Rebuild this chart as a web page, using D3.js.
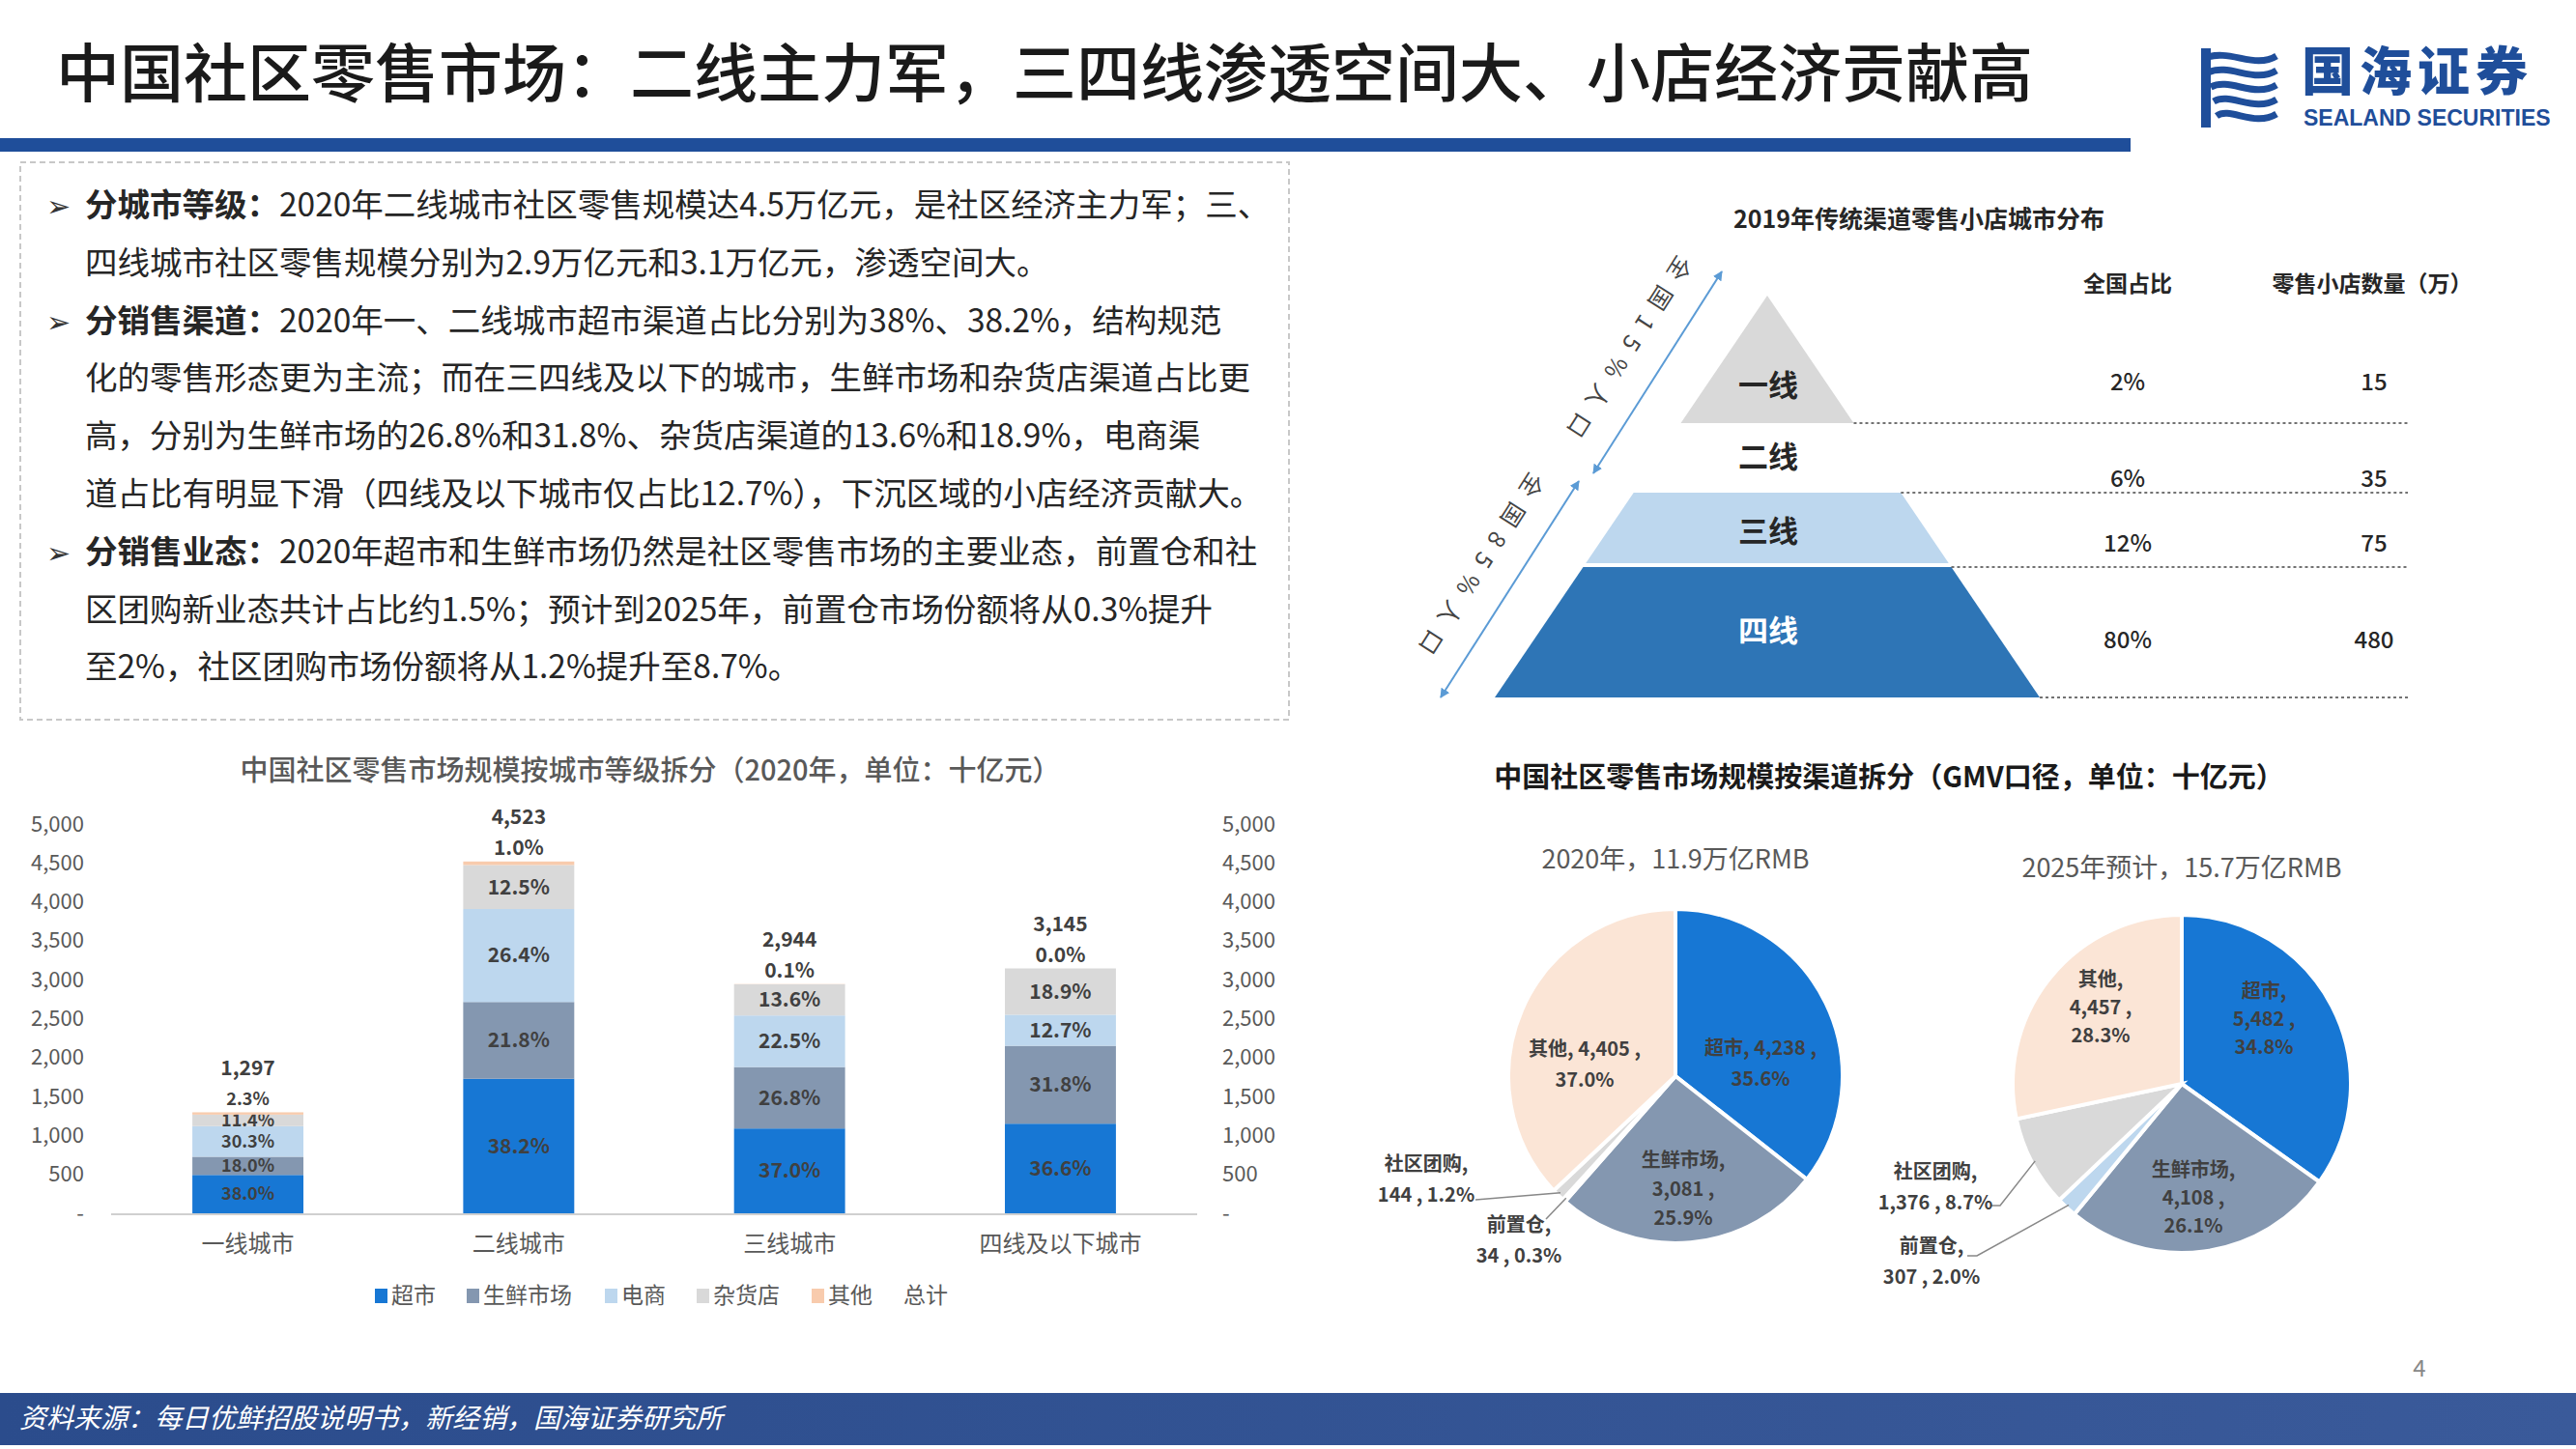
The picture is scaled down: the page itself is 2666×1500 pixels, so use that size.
<!DOCTYPE html>
<html><head><meta charset="utf-8">
<script src="https://cdn.jsdelivr.net/npm/d3@7"></script>
<style>body{margin:0;background:#fff}svg{display:block;font-family:"Noto Sans CJK SC","Noto Sans",sans-serif}</style>
</head><body><svg id="c" width="2666" height="1500"></svg>
<script>
// ---- data ----
const cityCats = ["一线城市","二线城市","三线城市","四线及以下城市"];
const cityTotals = [1297,4523,2944,3145];
const seriesNames = ["超市","生鲜市场","电商","杂货店","其他"];
const pctSupermarket = [38.0,38.2,37.0,36.6];
const pctFresh = [18.0,21.8,26.8,31.8];
const pctEcom = [30.3,26.4,22.5,12.7];
const pctGrocery = [11.4,12.5,13.6,18.9];
const pctOther = [2.3,1.0,0.1,0.0];
const yTicks = [0,500,1000,1500,2000,2500,3000,3500,4000,4500,5000];

const pyrTiers = ["一线","二线","三线","四线"];
const pyrShare = ["2%","6%","12%","80%"];
const pyrStores = ["15","35","75","480"];

const pieChannels = ["超市","生鲜市场","前置仓","社区团购","其他"];
const pie2020 = [4238,3081,34,144,4405];
const pie2020Pct = ["35.6%","25.9%","0.3%","1.2%","37.0%"];
const pie2025 = [5482,4108,307,1376,4457];
const pie2025Pct = ["34.8%","26.1%","2.0%","8.7%","28.3%"];

const svg = d3.select("#c");
const F = "Noto Sans CJK SC";

// ---- header ----
svg.append("text").attr("x",58).attr("y",100).attr("font-size",66).attr("fill","#1a1a1a").attr("font-weight",500)
  .text("中国社区零售市场：二线主力军，三四线渗透空间大、小店经济贡献高");
svg.append("rect").attr("x",0).attr("y",143).attr("width",2205).attr("height",14).attr("fill","#1F4E9A");
// logo
const lg = svg.append("g").attr("transform","translate(2278,50)");
for(let i=0;i<5;i++){
  lg.append("path").attr("d",`M${4+i*3},${10+i*15} C${30},${0+i*15} ${55},${22+i*15} ${78},${8+i*15}`)
    .attr("stroke","#1F4E9A").attr("stroke-width",7).attr("fill","none");
}
lg.append("rect").attr("x",0).attr("y",0).attr("width",10).attr("height",82).attr("fill","#1F4E9A");
svg.append("text").attr("x",2382).attr("y",94).attr("font-size",54).attr("font-weight",900).attr("fill","#1F4E9A").attr("letter-spacing",6).text("国海证券");
svg.append("text").attr("x",2384).attr("y",130).attr("font-size",23).attr("font-weight",700).attr("fill","#1F4E9A").attr("font-family","Liberation Sans").text("SEALAND SECURITIES");

// ---- text box ----
svg.append("rect").attr("x",21).attr("y",168).attr("width",1313).attr("height",577).attr("fill","none")
  .attr("stroke","#c8c8c8").attr("stroke-width",2).attr("stroke-dasharray","6,4");
const lines = [
  [true,"分城市等级：","2020年二线城市社区零售规模达4.5万亿元，是社区经济主力军；三、"],
  [false,"","四线城市社区零售规模分别为2.9万亿元和3.1万亿元，渗透空间大。"],
  [true,"分销售渠道：","2020年一、二线城市超市渠道占比分别为38%、38.2%，结构规范"],
  [false,"","化的零售形态更为主流；而在三四线及以下的城市，生鲜市场和杂货店渠道占比更"],
  [false,"","高，分别为生鲜市场的26.8%和31.8%、杂货店渠道的13.6%和18.9%，电商渠"],
  [false,"","道占比有明显下滑（四线及以下城市仅占比12.7%），下沉区域的小店经济贡献大。"],
  [true,"分销售业态：","2020年超市和生鲜市场仍然是社区零售市场的主要业态，前置仓和社"],
  [false,"","区团购新业态共计占比约1.5%；预计到2025年，前置仓市场份额将从0.3%提升"],
  [false,"","至2%，社区团购市场份额将从1.2%提升至8.7%。"]];
lines.forEach((l,i)=>{
  const y = 224+i*59.8;
  if(l[0]) svg.append("text").attr("x",48).attr("y",y).attr("font-size",30).attr("fill","#333").text("➢");
  const t = svg.append("text").attr("x",88).attr("y",y).attr("font-size",33.5).attr("fill","#262626");
  if(l[1]) t.append("tspan").attr("font-weight",700).text(l[1]);
  t.append("tspan").text(l[2]);
});

// ---- stacked bar chart ----
svg.append("text").attr("x",673).attr("y",808).attr("text-anchor","middle").attr("font-size",29).attr("fill","#595959").attr("font-weight",500)
  .text("中国社区零售市场规模按城市等级拆分（2020年，单位：十亿元）");
const bx = d3.scaleBand().domain(cityCats).range([115,1239]).paddingInner(0.59).paddingOuter(0.3);
const by = d3.scaleLinear().domain([0,5000]).range([1256,853]);
const colors = ["#1777D4","#8497B0","#BDD7EE","#D9D9D9","#F8CBAD"];
const pctArr = [pctSupermarket,pctFresh,pctEcom,pctGrocery,pctOther];
const fmt = d3.format(",");
const tk = v=> v===0?"-":fmt(v);
const axL = svg.append("g").attr("transform","translate(90,0)").call(d3.axisLeft(by).tickValues(yTicks).tickFormat(tk).tickSize(0));
const axR = svg.append("g").attr("transform","translate(1262,0)").call(d3.axisRight(by).tickValues(yTicks).tickFormat(tk).tickSize(0));
[axL,axR].forEach(a=>{a.select(".domain").remove();a.selectAll("text").attr("font-size",22).attr("fill","#595959").attr("font-family",F);});
svg.append("line").attr("x1",115).attr("x2",1239).attr("y1",1257).attr("y2",1257).attr("stroke","#d0d0d0").attr("stroke-width",2);
cityCats.forEach((c,i)=>{
  let cum=0;
  pctArr.forEach((arr,s)=>{
    const v = cityTotals[i]*arr[i]/100;
    const y0=by(cum), y1=by(cum+v);
    svg.append("rect").attr("x",bx(c)).attr("width",bx.bandwidth()).attr("y",y1).attr("height",Math.max(0,y0-y1)).attr("fill",colors[s]);
    const lbl = arr[i].toFixed(1)+"%";
    const ly = s===4 ? by(cityTotals[i])-14 : (y0+y1)/2;
    svg.append("text").attr("x",bx(c)+bx.bandwidth()/2).attr("y",ly).attr("dy","0.35em").attr("text-anchor","middle")
      .attr("font-size",i===0?18:21).attr("font-weight",700).attr("fill","#404040").text(lbl);
    cum+=v;
  });
  svg.append("text").attr("x",bx(c)+bx.bandwidth()/2).attr("y",by(cityTotals[i])-46).attr("dy","0.35em").attr("text-anchor","middle")
    .attr("font-size",21).attr("font-weight",700).attr("fill","#404040").text(fmt(cityTotals[i]));
  svg.append("text").attr("x",bx(c)+bx.bandwidth()/2).attr("y",1296).attr("text-anchor","middle").attr("font-size",24).attr("fill","#595959").text(c);
});
// legend
const legItems = seriesNames.concat(["总计"]);
let lx = 388;
legItems.forEach((n,i)=>{
  if(i<5) svg.append("rect").attr("x",lx).attr("y",1334).attr("width",13).attr("height",15).attr("fill",colors[i]);
  svg.append("text").attr("x",lx+(i<5?17:0)).attr("y",1349).attr("font-size",23).attr("fill","#595959").text(n);
  lx += (i<5?17:0)+n.length*24+30;
});

// ---- pyramid ----
svg.append("text").attr("x",1986).attr("y",236).attr("text-anchor","middle").attr("font-size",25).attr("font-weight",700).attr("fill","#262626").text("2019年传统渠道零售小店城市分布");
const apex=[1829,306], baseY=722, baseHalf=282;
const px = (y)=> (y-apex[1])/(baseY-apex[1])*baseHalf;
function trap(yt,yb,fill){
  const a=px(yt), b=px(yb);
  svg.append("path").attr("d",`M${apex[0]-a},${yt}L${apex[0]+a},${yt}L${apex[0]+b},${yb}L${apex[0]-b},${yb}Z`).attr("fill",fill);
}
trap(306,438,"#D9D9D9"); trap(510,583,"#BDD7EE"); trap(587,722,"#2E75B6");
const tierY=[410,484,561,664];
pyrTiers.forEach((t,i)=>{
  svg.append("text").attr("x",1830).attr("y",tierY[i]).attr("text-anchor","middle").attr("font-size",31).attr("font-weight",700)
    .attr("fill",i===3?"#fff":"#262626").text(t);
});
const dashY=[438,510,587,722];
dashY.forEach(y=>svg.append("line").attr("x1",apex[0]+px(y)).attr("x2",2492).attr("y1",y).attr("y2",y).attr("stroke","#444").attr("stroke-width",1.5).attr("stroke-dasharray","3,3"));
svg.append("text").attr("x",2202).attr("y",302).attr("text-anchor","middle").attr("font-size",23).attr("font-weight",700).attr("fill","#262626").text("全国占比");
svg.append("text").attr("x",2455).attr("y",302).attr("text-anchor","middle").attr("font-size",23).attr("font-weight",700).attr("fill","#262626").text("零售小店数量（万）");
const valY=[404,504,571,671];
pyrShare.forEach((s,i)=>{
  svg.append("text").attr("x",2202).attr("y",valY[i]).attr("text-anchor","middle").attr("font-size",24).attr("font-weight",500).attr("fill","#262626").text(s);
  svg.append("text").attr("x",2457).attr("y",valY[i]).attr("text-anchor","middle").attr("font-size",24).attr("font-weight",500).attr("fill","#262626").text(pyrStores[i]);
});
const defs=svg.append("defs");
defs.append("marker").attr("id","ah").attr("viewBox","0 0 10 10").attr("refX",9).attr("refY",5).attr("markerWidth",5).attr("markerHeight",5).attr("orient","auto-start-reverse")
  .append("path").attr("d","M0,0L10,5L0,10Z").attr("fill","#5B9BD5");
function arrow(x1,y1,x2,y2,txt){
  svg.append("line").attr("x1",x1).attr("y1",y1).attr("x2",x2).attr("y2",y2).attr("stroke","#5B9BD5").attr("stroke-width",2)
    .attr("marker-start","url(#ah)").attr("marker-end","url(#ah)");
  const ang=Math.atan2(y2-y1,x2-x1)*180/Math.PI;
  const mx=(x1+x2)/2-40, my=(y1+y2)/2-26;
  svg.append("text").attr("transform",`translate(${mx},${my}) rotate(${ang})`).attr("text-anchor","middle").attr("font-size",24)
    .attr("letter-spacing",12).attr("fill","#444").text(txt);
}
arrow(1782,281,1649,490,"全国15%人口");
arrow(1634,498,1491,722,"全国85%人口");

// ---- pies ----
svg.append("text").attr("x",1955).attr("y",815).attr("text-anchor","middle").attr("font-size",29).attr("font-weight",700).attr("fill","#1a1a1a").text("中国社区零售市场规模按渠道拆分（GMV口径，单位：十亿元）");
const pieColors=["#1777D4","#8497B0","#BDD7EE","#D9D9D9","#FBE5D6"];
function drawPie(cx,cy,r,vals,pcts,title,ty,inside,outside){
  svg.append("text").attr("x",cx).attr("y",ty).attr("text-anchor","middle").attr("font-size",27).attr("fill","#595959").text(title);
  const arcs=d3.pie().sort(null)(vals);
  const arc=d3.arc().innerRadius(0).outerRadius(r);
  const g=svg.append("g").attr("transform",`translate(${cx},${cy})`);
  g.selectAll("path").data(arcs).join("path").attr("d",arc).attr("fill",(d,i)=>pieColors[i]).attr("stroke","#fff").attr("stroke-width",4);
  inside.forEach(o=>{
    const t=svg.append("text").attr("text-anchor","middle").attr("font-size",20).attr("font-weight",700).attr("fill","#404040");
    o.lines.forEach((ln,k)=>t.append("tspan").attr("x",o.x).attr("y",o.y+k*o.lh).text(ln));
  });
  outside.forEach(o=>{
    const a=arcs[o.idx]; const mid=(a.startAngle+a.endAngle)/2;
    const ex=cx+Math.sin(mid)*r*0.98, ey=cy-Math.cos(mid)*r*0.98;
    svg.append("polyline").attr("points",`${o.lx},${o.ly} ${o.lx2},${o.ly2} ${ex},${ey}`).attr("fill","none").attr("stroke","#888").attr("stroke-width",1.5);
    const t=svg.append("text").attr("text-anchor","middle").attr("font-size",20).attr("font-weight",700).attr("fill","#404040");
    o.lines.forEach((ln,k)=>t.append("tspan").attr("x",o.x).attr("y",o.y+k*32).text(ln));
  });
}
const f=fmt;
drawPie(1734,1114,173,pie2020,pie2020Pct,"2020年，11.9万亿RMB",899,
 [{x:1822,y:1092,lh:32,lines:[`超市, ${f(pie2020[0])} ,`,pie2020Pct[0]]},
  {x:1640,y:1093,lh:32,lines:[`其他, ${f(pie2020[4])} ,`,pie2020Pct[4]]},
  {x:1742,y:1208,lh:30,lines:["生鲜市场,",`${f(pie2020[1])} ,`,pie2020Pct[1]]}],
 [{idx:3,x:1476,y:1212,lines:["社区团购,",`${pie2020[3]} , ${pie2020Pct[3]}`],lx:1527,ly:1242,lx2:1527,ly2:1242},
  {idx:2,x:1572,y:1275,lines:["前置仓,",`${pie2020[2]} , ${pie2020Pct[2]}`],lx:1600,ly:1262,lx2:1600,ly2:1262}]);
drawPie(2258,1122,175,pie2025,pie2025Pct,"2025年预计，15.7万亿RMB",908,
 [{x:2174,y:1021,lh:29,lines:["其他,",`${f(pie2025[4])} ,`,pie2025Pct[4]]},
  {x:2343,y:1033,lh:29,lines:["超市,",`${f(pie2025[0])} ,`,pie2025Pct[0]]},
  {x:2270,y:1218,lh:29,lines:["生鲜市场,",`${f(pie2025[1])} ,`,pie2025Pct[1]]}],
 [{idx:3,x:2003,y:1220,lines:["社区团购,",`${f(pie2025[3])} , ${pie2025Pct[3]}`],lx:2060,ly:1248,lx2:2070,ly2:1248},
  {idx:2,x:1999,y:1297,lines:["前置仓,",`${pie2025[2]} , ${pie2025Pct[2]}`],lx:2036,ly:1300,lx2:2046,ly2:1300}]);

// ---- footer ----
svg.append("text").attr("x",2504).attr("y",1425).attr("text-anchor","middle").attr("font-size",24).attr("fill","#888").text("4");
const grad=defs.append("linearGradient").attr("id","fg");
grad.append("stop").attr("offset","0").attr("stop-color","#2B4C8C");
grad.append("stop").attr("offset","1").attr("stop-color","#3A5A9A");
svg.append("rect").attr("x",0).attr("y",1442).attr("width",2666).attr("height",54).attr("fill","url(#fg)");
svg.append("text").attr("x",20).attr("y",1478).attr("font-size",28).attr("font-style","italic").attr("fill","#fff").text("资料来源：每日优鲜招股说明书，新经销，国海证券研究所");
</script></body></html>
